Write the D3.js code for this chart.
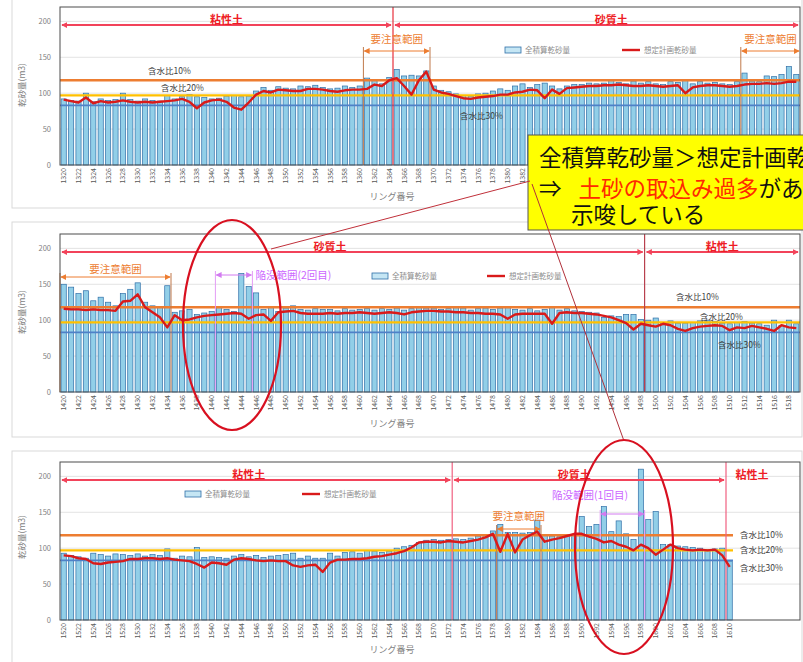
<!DOCTYPE html>
<html>
<head>
<meta charset="utf-8">
<script src="https://cdn.jsdelivr.net/npm/d3@7"></script>
<style>
  body { margin: 0; background: #fff; }
  svg { display: block; font-family: "Noto Sans CJK JP", "Noto Sans", sans-serif; }
</style>
</head>
<body>
<svg></svg>
<script>
// ring numbers (categories) for the three sections
const rings1 = d3.range(1320, 1420);
const rings2 = d3.range(1420, 1520);
const rings3 = d3.range(1520, 1611);

// 全積算乾砂量 (bars)
const bars1 = [92, 90, 89, 100, 88, 92, 90, 91, 100, 91,
  89, 92, 90, 89, 97, 92, 95, 98, 95, 94,
  92, 93, 96, 97, 95, 96, 103, 108, 104, 109,
  107, 106, 110, 109, 111, 108, 106, 107, 110, 108,
  110, 121, 118, 113, 122, 133, 124, 125, 124, 131,
  110, 104, 102, 99, 97, 96, 99, 100, 103, 106,
  104, 110, 113, 108, 112, 114, 110, 106, 110, 112,
  112, 114, 113, 114, 118, 115, 113, 117, 114, 116,
  113, 112, 116, 115, 118, 113, 116, 114, 115, 113,
  112, 116, 128, 117, 116, 124, 123, 126, 137, 126];
const bars2 = [150, 146, 137, 141, 127, 132, 125, 120, 137, 143,
  152, 125, 120, 118, 148, 111, 113, 115, 108, 110,
  112, 118, 115, 112, 165, 147, 138, 115, 118, 112,
  117, 120, 115, 114, 116, 115, 115, 113, 116, 114,
  115, 116, 114, 116, 115, 117, 114, 116, 118, 117,
  117, 115, 116, 118, 117, 114, 116, 117, 115, 117,
  118, 115, 114, 116, 113, 115, 118, 114, 116, 113,
  112, 111, 110, 104, 106, 105, 108, 108, 101, 100,
  103, 97, 99, 96, 96, 97, 99, 100, 98, 96,
  95, 97, 98, 96, 95, 93, 100, 93, 100, 95];
const bars3 = [93, 90, 88, 86, 93, 91, 89, 92, 91, 90,
  92, 89, 91, 90, 99, 86, 89, 88, 101, 87,
  88, 87, 86, 89, 91, 88, 90, 87, 89, 90,
  91, 93, 86, 89, 86, 86, 93, 89, 94, 95,
  93, 97, 96, 94, 96, 100, 102, 104, 108, 111,
  112, 111, 112, 113, 112, 114, 117, 119, 124, 133,
  122, 122, 121, 122, 139, 118, 117, 116, 118, 119,
  144, 130, 133, 158, 123, 138, 120, 112, 210, 140,
  151, 105, 105, 103, 102, 101, 100, 98, 99, 100, 82];

// 想定計画乾砂量 (line)
const plan1 = [91, 89, 87, 94, 86, 89, 87, 88, 90, 88,
  87, 88, 87, 88, 89, 90, 92, 88, 79, 87,
  90, 91, 88, 80, 77, 87, 98, 103, 101, 105,
  104, 103, 103, 106, 106, 105, 103, 102, 104, 105,
  105, 106, 112, 110, 118, 121, 110, 98, 118, 130,
  105, 101, 99, 96, 93, 92, 94, 95, 96, 98,
  98, 101, 102, 105, 104, 93, 105, 99, 107, 108,
  109, 110, 110, 111, 111, 112, 111, 110, 110, 111,
  110, 109, 110, 111, 100, 108, 110, 111, 111, 110,
  109, 110, 112, 113, 113, 114, 113, 114, 116, 116];
const plan2 = [116, 115, 115, 114, 115, 114, 114, 113, 126, 127,
  136, 118, 111, 104, 90, 107, 100, 101, 104, 106,
  107, 108, 109, 110, 109, 102, 107, 108, 99, 111,
  112, 113, 110, 109, 109, 109, 110, 109, 110, 110,
  111, 110, 109, 110, 111, 110, 108, 111, 112, 113,
  113, 112, 112, 111, 111, 110, 110, 109, 109, 108,
  102, 108, 109, 109, 109, 109, 95, 110, 111, 110,
  110, 109, 108, 106, 104, 100, 96, 87, 95, 93,
  91, 95, 93, 88, 85, 89, 91, 92, 93, 92,
  86, 90, 89, 92, 90, 88, 85, 93, 90, 89];
const plan3 = [90, 89, 86, 85, 79, 78, 80, 81, 82, 85,
  85, 86, 86, 85, 86, 84, 83, 82, 78, 73,
  80, 79, 77, 84, 86, 85, 83, 82, 83, 82,
  82, 76, 74, 76, 77, 67, 80, 84, 84, 85,
  85, 86, 88, 89, 91, 93, 96, 101, 108, 109,
  109, 108, 110, 109, 108, 110, 112, 115, 120, 95,
  120, 94, 112, 118, 123, 109, 112, 114, 117, 120,
  120, 116, 113, 108, 110, 105, 102, 97, 105, 100,
  91, 98, 105, 100, 98, 97, 98, 97, 98, 90, 74];

// 含水比 reference levels
const moistureLabels = ['含水比10%', '含水比20%', '含水比30%'];
const moistureValues = [118, 97, 83];
const yTicks = [0, 50, 100, 150, 200];

// soil zones: name, first ring, last ring, ring where the label sits
const soil1 = [{name: '粘性土', from: 1320, to: 1364, at: 1342}, {name: '砂質土', from: 1365, to: 1419, at: 1394}];
const soil2 = [{name: '砂質土', from: 1420, to: 1498, at: 1456}, {name: '粘性土', from: 1499, to: 1519, at: 1509}];
const soil3 = [{name: '粘性土', from: 1520, to: 1572, at: 1545}, {name: '砂質土', from: 1573, to: 1609, at: 1589}, {name: '粘性土', from: 1610, to: 1619, at: 1613, noArrow: true}];
// 要注意範囲
const caution1 = [{from: 1361, to: 1369}, {from: 1412, to: 1419}];
const caution2 = [{from: 1420, to: 1434}];
const caution3 = [{from: 1579, to: 1584}];
// 陥没範囲
const collapse2 = [{name: '陥没範囲(2回目)', from: 1441, to: 1445}];
const collapse3 = [{name: '陥没範囲(1回目)', from: 1593, to: 1598}];

const svg = d3.select('svg').attr('width', 803).attr('height', 662);
const defs = svg.append('defs');
const arrowColors = {red: '#f2435a', orange: '#ed7d31', violet: '#d27bf0'};
Object.entries(arrowColors).forEach(([k, c]) => {
    defs.append('marker')
        .attr('id', 'arr-' + k)
        .attr('viewBox', '0 0 8 8')
        .attr('refX', 7).attr('refY', 4)
        .attr('markerWidth', 6).attr('markerHeight', 6)
        .attr('markerUnits', 'userSpaceOnUse')
        .attr('orient', 'auto-start-reverse')
        .append('path').attr('d', 'M0,0L8,4L0,8Z').attr('fill', c);
});

const panels = [
    {rings: rings1, bars: bars1, plan: plan1, soil: soil1, caution: caution1, collapse: [],
     frame: [12, -2, 790, 210], top: 7, bottom: 165, xTitleY: 200, yTitleY: 85,
     legendY: 50, legendRect: 505, legendLine: 622, refEnd: 800,
     refLabels: [[148, 74], [161, 91], [460, 119]], cautionY: 51, cautionDy: -8, dividerColor: '#e8303c'},
    {rings: rings2, bars: bars2, plan: plan2, soil: soil2, caution: caution2, collapse: collapse2,
     frame: [12, 222, 790, 215], top: 234, bottom: 392, xTitleY: 427, yTitleY: 312,
     legendY: 276, legendRect: 372, legendLine: 487, refEnd: 800,
     refLabels: [[676, 300], [700, 320], [718, 348]], cautionY: 277, cautionDy: -4,
     collapseY: 275, collapseLabel: {dx: 3, y: 279, anchor: 'start'}, dividerColor: '#b8404e'},
    {rings: rings3, bars: bars3, plan: plan3, soil: soil3, caution: caution3, collapse: collapse3,
     frame: [12, 451, 790, 215], top: 462, bottom: 620, xTitleY: 653, yTitleY: 537,
     legendY: 494, legendRect: 185, legendLine: 302, refEnd: 733,
     refLabels: [[740, 538], [740, 553], [740, 571]], cautionY: 529, cautionDy: -9,
     collapseY: 514, collapseLabel: {x: 590, y: 499, anchor: 'middle'}, dividerColor: '#f06080'}
];

panels.forEach(drawPanel);

function drawPanel(p) {
    const g = svg.append('g');
    g.append('rect')
        .attr('x', p.frame[0]).attr('y', p.frame[1])
        .attr('width', p.frame[2]).attr('height', p.frame[3])
        .attr('fill', '#fff').attr('stroke', '#d9d9d9');

    const first = p.rings[0];
    const x = d3.scaleBand()
        .domain(d3.range(first, first + 100))
        .range([60, 800])
        .paddingInner(0.3).paddingOuter(0.15);
    const step = x.step();
    const bw = x.bandwidth();
    const xStart = r => 60 + (r - first) * step;   // left edge of a ring's slot
    const xc = r => x(r) + bw / 2;
    const y = d3.scaleLinear().domain([0, 220]).range([p.bottom, p.top]);

    // grid
    g.append('g').selectAll('line')
        .data(yTicks.slice(1))
        .join('line')
        .attr('x1', 60).attr('x2', 800)
        .attr('y1', d => y(d)).attr('y2', d => y(d))
        .attr('stroke', '#e3e3e3');

    // bars
    g.append('g').selectAll('rect')
        .data(p.rings.map((r, i) => ({r, v: p.bars[i]})))
        .join('rect')
        .attr('x', d => x(d.r))
        .attr('y', d => y(d.v))
        .attr('width', bw)
        .attr('height', d => y(0) - y(d.v))
        .attr('fill', '#92cfe8')
        .attr('stroke', '#2f6fa8')
        .attr('stroke-width', 0.7);

    // reference lines 含水比
    const refColors = ['#ed7d31', '#ffc000', '#4f81c7'];
    const refWidths = [2.4, 2.4, 1.6];
    moistureValues.forEach((v, i) => {
        g.append('line')
            .attr('x1', 60).attr('x2', p.refEnd)
            .attr('y1', y(v)).attr('y2', y(v))
            .attr('stroke', refColors[i]).attr('stroke-width', refWidths[i]);
        g.append('text')
            .attr('x', p.refLabels[i][0]).attr('y', p.refLabels[i][1])
            .attr('font-size', 8.5).attr('fill', '#404040')
            .text(moistureLabels[i]);
    });

    // soil zone dividers
    p.soil.slice(1).forEach(z => {
        g.append('line')
            .attr('x1', xStart(z.from)).attr('x2', xStart(z.from))
            .attr('y1', p.top).attr('y2', p.bottom)
            .attr('stroke', p.dividerColor).attr('stroke-width', 1.2);
    });

    // caution ranges
    p.caution.forEach(c => {
        const x1 = xStart(c.from), x2 = Math.min(xStart(c.to + 1), 800);
        [x1, x2].filter(v => v < 799).forEach(v => {
            g.append('line')
                .attr('x1', v).attr('x2', v)
                .attr('y1', p.cautionY - 4).attr('y2', p.bottom)
                .attr('stroke', '#c0794a').attr('stroke-width', 1);
        });
        g.append('line')
            .attr('x1', x1 + 1).attr('x2', x2 - 1)
            .attr('y1', p.cautionY).attr('y2', p.cautionY)
            .attr('stroke', '#ed7d31').attr('stroke-width', 1)
            .attr('marker-start', 'url(#arr-orange)').attr('marker-end', 'url(#arr-orange)');
        g.append('text')
            .attr('x', (x1 + x2) / 2).attr('y', p.cautionY + p.cautionDy)
            .attr('text-anchor', 'middle').attr('font-size', 10.5)
            .attr('fill', '#ed7d31')
            .text('要注意範囲');
    });

    // collapse ranges
    p.collapse.forEach(c => {
        const x1 = xStart(c.from), x2 = xStart(c.to + 1);
        [x1, x2].forEach(v => {
            g.append('line')
                .attr('x1', v).attr('x2', v)
                .attr('y1', p.collapseY - 4).attr('y2', p.bottom)
                .attr('stroke', '#e39cf5').attr('stroke-width', 1);
        });
        g.append('line')
            .attr('x1', x1 + 1).attr('x2', x2 - 1)
            .attr('y1', p.collapseY).attr('y2', p.collapseY)
            .attr('stroke', '#d27bf0').attr('stroke-width', 1)
            .attr('marker-start', 'url(#arr-violet)').attr('marker-end', 'url(#arr-violet)');
        const lab = p.collapseLabel;
        g.append('text')
            .attr('x', lab.x !== undefined ? lab.x : x2 + lab.dx)
            .attr('y', lab.y)
            .attr('text-anchor', lab.anchor).attr('font-size', 10.5)
            .attr('fill', '#cc66ff')
            .text(c.name);
    });

    // planned line
    const line = d3.line()
        .x((d, i) => xc(p.rings[i]))
        .y(d => y(d));
    g.append('path')
        .attr('d', line(p.plan))
        .attr('fill', 'none')
        .attr('stroke', '#d91a1a')
        .attr('stroke-width', 2.4)
        .attr('stroke-linejoin', 'round');

    // soil arrows
    const soilY = p.top + 18;
    p.soil.forEach(z => {
        const x1 = xStart(z.from), x2 = Math.min(xStart(z.to + 1), 800);
        if (!z.noArrow) {
            g.append('line')
                .attr('x1', x1 + 2).attr('x2', x2 - 2)
                .attr('y1', soilY).attr('y2', soilY)
                .attr('stroke', '#f2435a').attr('stroke-width', 1.8)
                .attr('marker-start', 'url(#arr-red)').attr('marker-end', 'url(#arr-red)');
        }
        g.append('text')
            .attr('x', xc(z.at)).attr('y', soilY - 1)
            .attr('text-anchor', 'middle')
            .attr('font-size', 11).attr('font-weight', 'bold')
            .attr('fill', '#ee1c25')
            .text(z.name);
    });

    // legend
    g.append('rect')
        .attr('x', p.legendRect).attr('y', p.legendY - 3)
        .attr('width', 16).attr('height', 6)
        .attr('fill', '#c5e6f4').attr('stroke', '#2f6fa8').attr('stroke-width', 0.8);
    g.append('text')
        .attr('x', p.legendRect + 20).attr('y', p.legendY + 3)
        .attr('font-size', 7.5).attr('fill', '#8c8c8c')
        .text('全積算乾砂量');
    g.append('line')
        .attr('x1', p.legendLine).attr('x2', p.legendLine + 18)
        .attr('y1', p.legendY).attr('y2', p.legendY)
        .attr('stroke', '#d91a1a').attr('stroke-width', 2.4);
    g.append('text')
        .attr('x', p.legendLine + 22).attr('y', p.legendY + 3)
        .attr('font-size', 7.5).attr('fill', '#8c8c8c')
        .text('想定計画乾砂量');

    // axes
    g.append('g').selectAll('text')
        .data(yTicks)
        .join('text')
        .attr('x', 51).attr('y', d => y(d) + 3)
        .attr('text-anchor', 'end').attr('font-size', 7.5).attr('fill', '#7f7f7f')
        .text(d => d);
    g.append('g').selectAll('text')
        .data(p.rings.filter(r => r % 2 === 0))
        .join('text')
        .attr('transform', r => `translate(${xc(r) + 2.5},${p.bottom + 3}) rotate(-90)`)
        .attr('text-anchor', 'end').attr('font-size', 7).attr('fill', '#595959')
        .text(r => r);
    g.append('text')
        .attr('transform', `translate(25,${p.yTitleY}) rotate(-90)`)
        .attr('text-anchor', 'middle').attr('font-size', 8.5).attr('fill', '#7f7f7f')
        .text('乾砂量(m3)');
    g.append('text')
        .attr('x', 392).attr('y', p.xTitleY)
        .attr('text-anchor', 'middle').attr('font-size', 9).attr('fill', '#7f7f7f')
        .text('リング番号');

    // plot frame
    g.append('rect')
        .attr('x', 60).attr('y', p.top)
        .attr('width', 740).attr('height', p.bottom - p.top)
        .attr('fill', 'none').attr('stroke', '#4d4d4d').attr('stroke-width', 1);
}

// callout (runs past the right edge, as in the source slide)
const callout = svg.append('g');
callout.append('rect')
    .attr('x', 528).attr('y', 135).attr('width', 300).attr('height', 95)
    .attr('fill', '#ffff00').attr('stroke', '#555').attr('stroke-width', 1);
callout.append('text')
    .attr('x', 539).attr('y', 166).attr('font-size', 22.5).attr('fill', '#111')
    .text('全積算乾砂量＞想定計画乾砂量');
const t2 = callout.append('text')
    .attr('x', 539).attr('y', 197).attr('font-size', 22.5).attr('fill', '#111');
t2.append('tspan').text('⇒ ');
t2.append('tspan').attr('dx', 12).attr('fill', '#ff2a00').text('土砂の取込み過多');
t2.append('tspan').text('があったことを');
callout.append('text')
    .attr('x', 571).attr('y', 223).attr('font-size', 22.5).attr('fill', '#111')
    .text('示唆している');

// pointer lines and ellipses
svg.append('line')
    .attr('x1', 271).attr('y1', 249).attr('x2', 530).attr('y2', 181)
    .attr('stroke', '#c0303a').attr('stroke-width', 1);
svg.append('line')
    .attr('x1', 532).attr('y1', 184).attr('x2', 624).attr('y2', 441)
    .attr('stroke', '#b0303a').attr('stroke-width', 1);
svg.append('ellipse')
    .attr('cx', 232).attr('cy', 325).attr('rx', 49).attr('ry', 105)
    .attr('fill', 'none').attr('stroke', '#d81020').attr('stroke-width', 2.2);
svg.append('ellipse')
    .attr('cx', 624).attr('cy', 547).attr('rx', 49).attr('ry', 107)
    .attr('fill', 'none').attr('stroke', '#d81020').attr('stroke-width', 2.2);
</script>
</body>
</html>
